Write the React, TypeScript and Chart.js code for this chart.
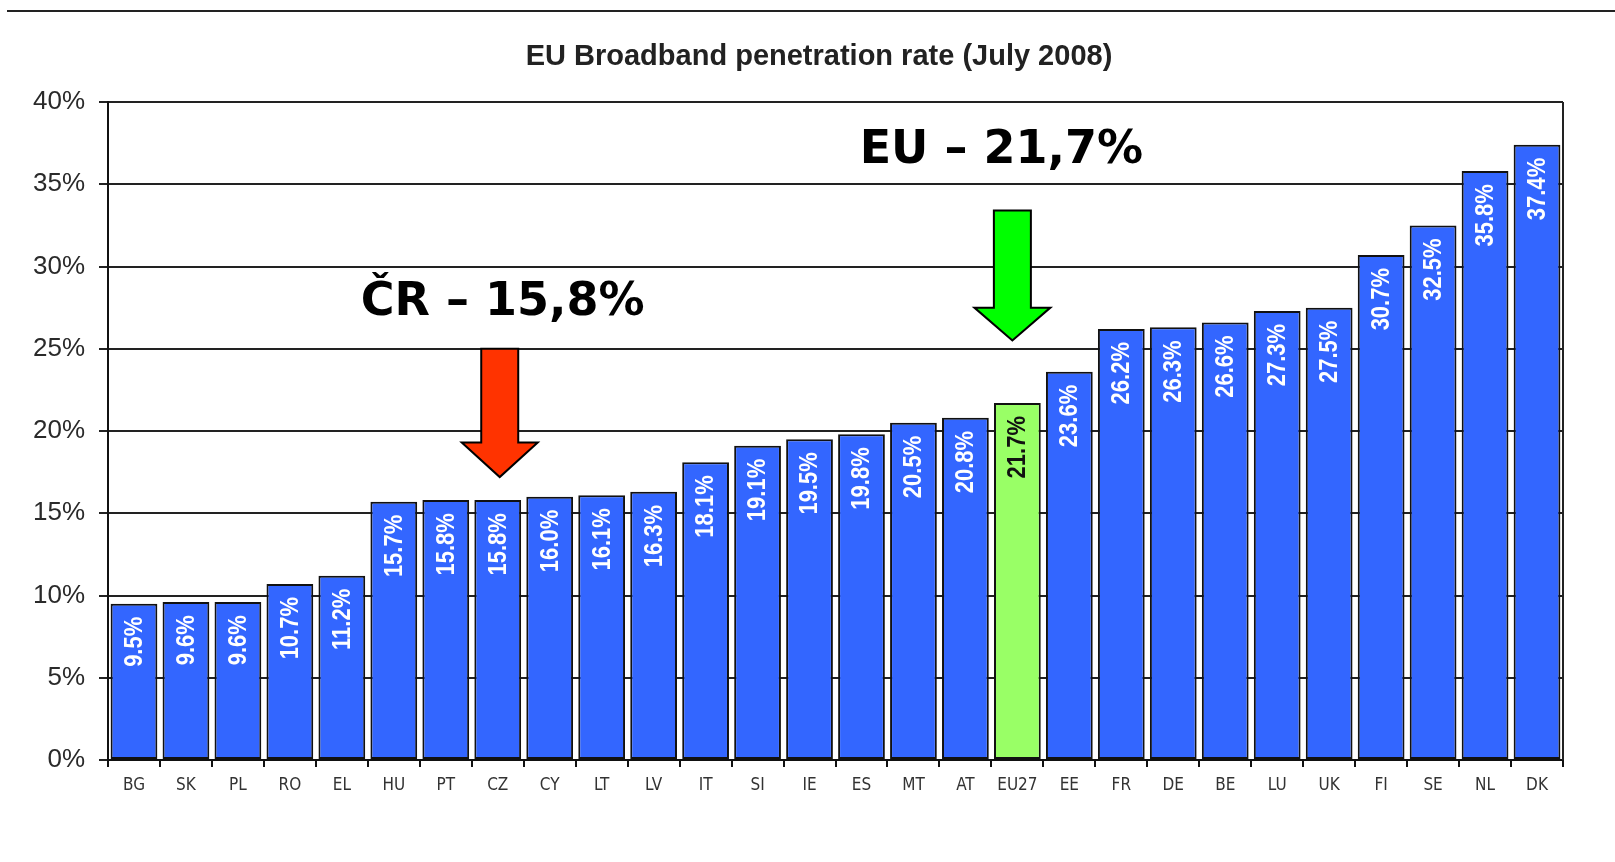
import React, { useEffect, useRef } from 'react';
import { Chart, registerables } from 'chart.js';

Chart.register(...registerables);

// ---- data ----
const categories = ['BG', 'SK', 'PL', 'RO', 'EL', 'HU', 'PT', 'CZ', 'CY', 'LT', 'LV', 'IT', 'SI', 'IE', 'ES', 'MT', 'AT', 'EU27', 'EE', 'FR', 'DE', 'BE', 'LU', 'UK', 'FI', 'SE', 'NL', 'DK'];
const penetration = [9.5, 9.6, 9.6, 10.7, 11.2, 15.7, 15.8, 15.8, 16.0, 16.1, 16.3, 18.1, 19.1, 19.5, 19.8, 20.5, 20.8, 21.7, 23.6, 26.2, 26.3, 26.6, 27.3, 27.5, 30.7, 32.5, 35.8, 37.4];
const highlightCategory = 'EU27';
const yMin = 0;
const yMax = 40;
const yStep = 5;
const titleText = 'EU Broadband penetration rate (July 2008)';

// callouts (text + arrow), anchored to categories and values on the y scale
const calloutTexts = ['ČR – 15,8%', 'EU – 21,7%'];
const calloutCategories = ['CZ', 'EU27'];
const calloutTextBaselines = [27.05, 36.3];
const arrowTops = [25.0, 33.4];
const arrowHeads = [19.3, 27.5];
const arrowTips = [17.2, 25.5];

// styles
const arrowColors = ['#FF3300', '#00FF00'];
const textOffsetsPx = [5, -16];
const arrowOffsetsPx = [2, -5];
const barBlue = '#3366FF';
const barGreen = '#99FF66';

function drawArrow(ctx: CanvasRenderingContext2D, cx: number, yTop: number, yHead: number, yTip: number, shaftHalf: number, headHalf: number, fill: string) {
  ctx.beginPath();
  ctx.moveTo(cx - shaftHalf, yTop);
  ctx.lineTo(cx + shaftHalf, yTop);
  ctx.lineTo(cx + shaftHalf, yHead);
  ctx.lineTo(cx + headHalf, yHead);
  ctx.lineTo(cx, yTip);
  ctx.lineTo(cx - headHalf, yHead);
  ctx.lineTo(cx - shaftHalf, yHead);
  ctx.closePath();
  ctx.fillStyle = fill;
  ctx.fill();
  ctx.lineWidth = 2;
  ctx.strokeStyle = '#000';
  ctx.lineJoin = 'miter';
  ctx.stroke();
}

const decorPlugin = {
  id: 'decor',
  beforeDraw(chart: any) {
    const ctx = chart.ctx as CanvasRenderingContext2D;
    ctx.save();
    ctx.fillStyle = '#ffffff';
    ctx.fillRect(0, 0, chart.width, chart.height);
    // top rule
    ctx.strokeStyle = '#222';
    ctx.lineWidth = 2;
    ctx.beginPath();
    ctx.moveTo(7, 11);
    ctx.lineTo(chart.width, 11);
    ctx.stroke();
    // title
    ctx.fillStyle = '#222';
    ctx.font = 'bold 29px "Liberation Sans", Arial, sans-serif';
    ctx.textAlign = 'center';
    ctx.textBaseline = 'middle';
    ctx.fillText(titleText, 819, 57);
    ctx.restore();
  },
  afterDatasetsDraw(chart: any) {
    const ctx = chart.ctx as CanvasRenderingContext2D;
    const area = chart.chartArea;
    const xs = chart.scales.x;
    const ys = chart.scales.y;
    ctx.save();
    // right border of plot
    ctx.strokeStyle = '#222';
    ctx.lineWidth = 2;
    ctx.beginPath();
    ctx.moveTo(area.right, area.top);
    ctx.lineTo(area.right, area.bottom);
    ctx.stroke();

    // value labels inside bars, rotated, slightly condensed
    const meta = chart.getDatasetMeta(0);
    ctx.font = 'bold 25px "Liberation Sans", Arial, sans-serif';
    ctx.textAlign = 'right';
    ctx.textBaseline = 'middle';
    meta.data.forEach((bar: any, i: number) => {
      const label = penetration[i].toFixed(1) + '%';
      ctx.save();
      ctx.fillStyle = categories[i] === highlightCategory ? '#111111' : '#ffffff';
      ctx.translate(bar.x, bar.y + 13);
      ctx.rotate(-Math.PI / 2);
      ctx.scale(0.88, 1);
      ctx.fillText(label, 0, 1);
      ctx.restore();
    });

    // callouts
    calloutTexts.forEach((txt, k) => {
      const idx = categories.indexOf(calloutCategories[k]);
      const cx = xs.getPixelForValue(idx);
      drawArrow(
        ctx,
        cx + arrowOffsetsPx[k],
        ys.getPixelForValue(arrowTops[k]),
        ys.getPixelForValue(arrowHeads[k]),
        ys.getPixelForValue(arrowTips[k]),
        18.5,
        38,
        arrowColors[k]
      );
      ctx.fillStyle = '#000';
      ctx.font = 'bold 46px "DejaVu Sans", Verdana, sans-serif';
      ctx.textAlign = 'center';
      ctx.textBaseline = 'alphabetic';
      ctx.fillText(txt, cx + textOffsetsPx[k], ys.getPixelForValue(calloutTextBaselines[k]));
    });
    ctx.restore();
  },
};

export default function App() {
  const ref = useRef<HTMLCanvasElement | null>(null);
  useEffect(() => {
    if (!ref.current) return;
    const chart = new Chart(ref.current, {
      type: 'bar',
      data: {
        labels: categories,
        datasets: [
          {
            data: penetration,
            backgroundColor: categories.map((c) => (c === highlightCategory ? barGreen : barBlue)),
            borderColor: '#111',
            borderWidth: 2,
            borderSkipped: false,
            barPercentage: 0.9,
            categoryPercentage: 1.0,
          },
        ],
      },
      options: {
        responsive: false,
        animation: false,
        devicePixelRatio: 1,
        layout: { padding: { top: 102, left: 0, right: 52, bottom: 0 } },
        plugins: {
          legend: { display: false },
          title: { display: false },
          tooltip: { enabled: false },
        },
        scales: {
          x: {
            grid: {
              offset: true,
              drawOnChartArea: false,
              drawTicks: true,
              tickLength: 7,
              color: '#111',
              lineWidth: 2,
            },
            border: { display: true, color: '#111', width: 2 },
            ticks: {
              color: '#333',
              padding: 8,
              maxRotation: 0,
              autoSkip: false,
              font: { family: '"DejaVu Sans Condensed", "Liberation Sans", sans-serif', size: 17 },
            },
            afterFit: (scale: any) => {
              scale.height = 102;
            },
          },
          y: {
            min: yMin,
            max: yMax,
            grid: {
              color: '#222',
              lineWidth: 2,
              tickLength: 9,
              drawTicks: true,
            },
            border: { display: true, color: '#111', width: 2 },
            ticks: {
              stepSize: yStep,
              color: '#2a2a2a',
              padding: 14,
              font: { family: '"Liberation Sans", Arial, sans-serif', size: 26 },
              callback: (v: any) => v + '%',
            },
            afterFit: (scale: any) => {
              scale.width = 108;
            },
          },
        },
      },
      plugins: [decorPlugin],
    });
    return () => chart.destroy();
  }, []);

  return (
    <div style={{ position: 'fixed', left: 0, top: 0, width: 1615, height: 862, background: '#fff' }}>
      <canvas ref={ref} width={1615} height={862} style={{ width: 1615, height: 862, display: 'block' }} />
    </div>
  );
}
